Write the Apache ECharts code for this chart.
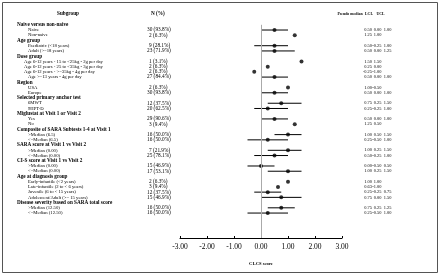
<!DOCTYPE html>
<html lang="en">
<head>
<meta charset="UTF-8">
<script src="https://cdn.jsdelivr.net/npm/echarts@6/dist/echarts.min.js"></script>
<style>html,body{margin:0;padding:0;background:#fff}#main{width:440px;height:275px}</style>
</head>
<body>
<div id="main"></div>
<script>
// rows top to bottom; headers have an empty N (%)
var subgroups = [
    'Naive versus non-naive', 'Naive', 'Non-naive',
    'Age group', 'Paediatric (<18 years)', 'Adult (>=18 years)',
    'Dose group', 'Age 6-12 years - 15 to <25kg - 2g per day', 'Age 6-12 years - 25 to <35kg - 3g per day',
    'Age 6-12 years - >=35kg - 4g per day', 'Age >=13 years - 4g per day',
    'Region', 'USA', 'Europe',
    'Selected primary anchor test', '6MWT', '9HPT-D',
    'Miglustat at Visit 1 or Visit 2', 'Yes', 'No',
    'Composite of SARA Subtests 1-4 at Visit 1', '>Median (6.5)', '<=Median (6.5)',
    'SARA score at Visit 1 vs Visit 2', '>Median (0.00)', '<=Median (0.00)',
    'CI-S score at Visit 1 vs Visit 2', '>Median (0.00)', '<=Median (0.00)',
    'Age at diagnosis group', 'Early-infantile (<2 years)', 'Late-infantile (2 to < 6 years)',
    'Juvenile (6 to < 15 years)', 'Adolescent/Adult (>= 15 years)',
    'Disease severity based on SARA total score', '>Median (12.50)', '<=Median (12.50)'
];
var counts = [
    '', '30 (93.8%)', '2 (6.3%)',
    '', '9 (28.1%)', '23 (71.9%)',
    '', '1 (3.1%)', '2 (6.3%)', '2 (6.3%)', '27 (84.4%)',
    '', '2 (6.3%)', '30 (93.8%)',
    '', '12 (37.5%)', '20 (62.5%)',
    '', '29 (90.6%)', '3 (9.4%)',
    '', '16 (50.0%)', '16 (50.0%)',
    '', '7 (21.9%)', '25 (78.1%)',
    '', '15 (46.9%)', '17 (53.1%)',
    '', '2 (6.3%)', '3 (9.4%)', '12 (37.5%)', '15 (46.9%)',
    '', '16 (50.0%)', '16 (50.0%)'
];
var pseudoMedian = [
    null, 0.50, 1.25,
    null, 0.50, 0.50,
    null, 1.50, 0.25, -0.25, 0.50,
    null, 1.00, 0.50,
    null, 0.75, 0.25,
    null, 0.50, 1.25,
    null, 1.00, 0.25,
    null, 1.00, 0.50,
    null, 0.00, 1.00,
    null, 1.00, 0.63, 0.25, 0.75,
    null, 0.75, 0.25
];
var lcl = [
    null, 0.00, 1.00,
    null, -0.25, 0.00,
    null, 1.50, 0.00, -1.00, 0.00,
    null, -0.50, 0.00,
    null, 0.25, -0.25,
    null, 0.00, 0.50,
    null, 0.50, -0.50,
    null, 0.25, -0.25,
    null, -0.50, 0.25,
    null, 1.00, -1.00, -0.25, 0.00,
    null, 0.25, -0.50
];
var ucl = [
    null, 1.00, null,
    null, 1.00, 1.25,
    null, null, null, null, 1.00,
    null, null, 1.00,
    null, 1.50, 1.00,
    null, 1.00, null,
    null, 1.50, 1.00,
    null, 1.50, 1.00,
    null, 0.50, 1.50,
    null, null, null, 0.75, 1.50,
    null, 1.25, 1.00
];
var xTicks = [-3, -2, -1, 0, 1, 2, 3];

var serif = 'Liberation Serif';
var myChart = echarts.init(document.getElementById('main'));

var pointData = [], ciData = [];
for (var i = 0; i < subgroups.length; i++) {
    if (pseudoMedian[i] !== null) pointData.push([pseudoMedian[i], i]);
    if (lcl[i] !== null && ucl[i] !== null) ciData.push([lcl[i], ucl[i], i]);
}

var option = {
    animation: false,
    grid: { left: 180, width: 162, top: 24.8, height: 213.2 },
    xAxis: {
        type: 'value', min: xTicks[0], max: xTicks[xTicks.length - 1], interval: 1,
        axisLine: { onZero: false, lineStyle: { color: '#000', width: 1 } },
        axisTick: { inside: true, length: 2, lineStyle: { color: '#000' } },
        splitLine: { show: false },
        axisLabel: {
            color: '#000', fontFamily: serif, fontSize: 7.5, margin: 5,
            formatter: function (v) { return v.toFixed(2); }
        },
        name: 'CI-CS score', nameLocation: 'middle', nameGap: 23,
        nameTextStyle: { color: '#000', fontFamily: serif, fontSize: 4.6, fontWeight: 'bold' }
    },
    yAxis: { type: 'value', inverse: true, min: 0, max: 40.77, show: false },
    series: [{
        type: 'custom',
        data: ciData,
        renderItem: function (params, api) {
            var a = api.coord([api.value(0), api.value(2)]);
            var b = api.coord([api.value(1), api.value(2)]);
            return { type: 'line', shape: { x1: a[0], y1: a[1], x2: b[0], y2: b[1] },
                     style: { stroke: '#000', lineWidth: 1 } };
        }
    }, {
        type: 'scatter',
        data: pointData,
        symbolSize: 4,
        itemStyle: { color: '#000' },
        markLine: {
            silent: true, symbol: 'none', label: { show: false },
            lineStyle: { color: '#aaa', type: 'solid', width: 1 },
            data: [{ xAxis: 0 }]
        }
    }]
};
myChart.setOption(option);

// table text
var g = [];
g.push({ type: 'rect', shape: { x: 2.5, y: 2.5, width: 435, height: 270 },
         style: { fill: 'none', stroke: '#555', lineWidth: 1 } });
function txt(s, x, y, align, bold, size) {
    g.push({ type: 'text', x: x, y: y, style: {
        text: s, fill: '#000', font: (bold ? 'bold ' : '') + size + 'px "Liberation Serif"',
        textAlign: align, textVerticalAlign: 'middle' } });
}
txt('Subgroup', 68, 14, 'center', true, 5.2);
txt('N (%)', 151, 14, 'left', true, 5.2);
txt('Pseudo median', 350, 14, 'center', true, 3.9);
txt('LCL', 369, 14, 'center', true, 3.9);
txt('UCL', 380.5, 14, 'center', true, 3.9);

for (var r = 0; r < subgroups.length; r++) {
    var y = myChart.convertToPixel({ yAxisIndex: 0 }, r);
    var head = counts[r] === '';
    var x = head ? 17 : (subgroups[r].indexOf('Age 6-12') === 0 ? 24 : 28);
    txt(subgroups[r], x, y, 'left', head, head ? 5.2 : 4.7);
    if (head) continue;
    txt(counts[r], counts[r].indexOf(' ') === 1 ? 149 : 147, y, 'left', false, 5.3);
    if (pseudoMedian[r] !== null) txt(pseudoMedian[r].toFixed(2), 372, y, 'right', false, 4.4);
    if (lcl[r] !== null) txt(lcl[r].toFixed(2), 381.5, y, 'right', false, 4.4);
    if (ucl[r] !== null) txt(ucl[r].toFixed(2), 391.5, y, 'right', false, 4.4);
}
myChart.setOption({ graphic: g });
</script>
</body>
</html>
